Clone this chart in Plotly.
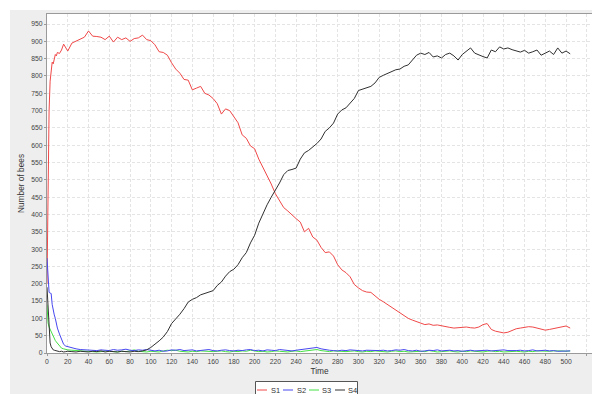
import plotly.graph_objects as go

# ---------------- data ----------------
time = [0, 1, 2, 3, 4, 5, 6, 7, 8, 9, 10, 12, 14, 16, 18] + list(range(20, 505, 4))

s1 = [200, 520, 700, 785, 815, 840, 835, 850, 862, 858, 868, 865, 875, 892, 880,
      872, 895, 900, 905, 912, 930, 915, 914, 912, 905, 915, 898, 912, 905, 910,
      900, 908, 910, 918, 905, 902, 890, 870, 868, 860, 838, 820, 808, 790, 788,
      760, 765, 770, 750, 745, 735, 720, 690, 705, 700, 682, 665, 630, 620, 598,
      590, 560, 537, 515, 488, 460, 440, 420, 410, 398, 388, 378, 350, 360, 335,
      326, 305, 290, 292, 280, 255, 240, 232, 220, 198, 188, 180, 176, 175, 165,
      155, 148, 140, 133, 125, 115, 108, 100, 95, 90, 86, 82, 84, 80, 81,
      78, 76, 74, 72, 73, 76, 75, 73, 72, 75, 82, 85, 68, 63, 60,
      58, 60, 65, 70, 72, 74, 76, 75, 72, 68, 66, 68, 70, 72, 76,
      78, 72]

s2 = [274, 200, 175, 173, 172, 140, 120, 110, 100, 85, 72, 55, 42, 25, 20,
      18, 16, 12, 10, 9, 8, 6, 7, 9, 8, 7, 10, 8, 9, 11,
      8, 7, 9, 8, 10, 7, 6, 8, 5, 6, 9, 8, 10, 7, 8,
      9, 6, 7, 8, 10, 7, 6, 8, 9, 7, 6, 8, 7, 9, 10,
      7, 8, 6, 9, 8, 7, 10, 8, 7, 6, 8, 10, 12, 13, 14,
      16, 12, 9, 8, 7, 6, 8, 7, 9, 8, 7, 6, 8, 7, 6,
      7, 8, 6, 7, 9, 8, 10, 7, 6, 8, 5, 6, 8, 7, 9,
      6, 7, 8, 6, 7, 5, 7, 8, 6, 7, 9, 8, 6, 7, 8,
      9, 7, 6, 7, 8, 6, 7, 9, 6, 7, 8, 6, 7, 5, 6,
      7, 6]

s3 = [140, 87, 75, 68, 62, 58, 50, 42, 36, 32, 28, 20, 14, 12, 10,
      9, 8, 7, 6, 5, 4, 5, 3, 4, 6, 5, 4, 3, 5, 4,
      6, 9, 5, 4, 3, 5, 4, 3, 6, 8, 7, 8, 5, 4, 3,
      5, 4, 6, 5, 3, 4, 5, 6, 4, 3, 5, 4, 6, 5, 8,
      6, 4, 5, 3, 4, 6, 5, 4, 3, 5, 6, 4, 5, 8, 9,
      10, 7, 5, 4, 6, 5, 3, 4, 5, 6, 4, 3, 5, 4, 6,
      5, 4, 3, 5, 6, 4, 5, 3, 4, 6, 5, 4, 7, 5, 3,
      4, 5, 6, 4, 3, 5, 4, 6, 5, 4, 3, 5, 6, 4, 5,
      3, 4, 6, 5, 4, 3, 5, 4, 6, 5, 4, 5, 6, 7, 6,
      5, 6]

s4 = [190, 120, 60, 29, 18, 12, 9, 8, 7, 6, 5, 4, 5, 3, 4,
      5, 4, 3, 5, 4, 3, 5, 4, 6, 3, 5, 4, 3, 5, 4,
      3, 5, 4, 6, 9, 16, 25, 35, 46, 62, 85, 98, 112, 128, 147,
      155, 160, 168, 172, 175, 180, 195, 205, 222, 235, 242, 255, 275, 290, 318,
      340, 375, 404, 428, 450, 470, 491, 515, 527, 530, 534, 560, 578, 585, 595,
      605, 618, 640, 650, 664, 690, 702, 708, 720, 735, 758, 762, 765, 770, 780,
      796, 802, 808, 812, 818, 820, 828, 832, 845, 860, 866, 862, 868, 855, 858,
      852, 862, 866, 858, 846, 862, 872, 881, 866, 860, 856, 852, 875, 870, 884,
      878, 881, 876, 872, 869, 874, 866, 870, 875, 860, 866, 872, 862, 881, 866,
      872, 864]

series_names = ["S1", "S2", "S3", "S4"]
series_values = [s1, s2, s3, s4]
series_colors = ["#f04848", "#4646f0", "#44e044", "#303030"]

x_ticks = list(range(0, 521, 20))
y_ticks = list(range(0, 951, 50))

# ---------------- layout helpers ----------------
W, H = 592, 394
L, R, T, B = 47, 0, 14, 41
PW, PH = W - L - R, H - T - B


def fx(px):
    return (px - L) / PW


def fy(py):
    return (H - B - py) / PH


fig = go.Figure()
draw_order = [0, 2, 1, 3]
for i in draw_order:
    fig.add_trace(go.Scatter(
        x=time, y=series_values[i], name=series_names[i], mode="lines",
        line=dict(color=series_colors[i], width=1), showlegend=False,
    ))

font_family = "Liberation Sans, Arial, sans-serif"

fig.update_layout(
    width=W, height=H,
    margin=dict(l=L, r=R, t=T, b=B, pad=0),
    paper_bgcolor="#eeeeee",
    plot_bgcolor="#ffffff",
    font=dict(family=font_family, color="#444444"),
)

grid = dict(showgrid=True, gridcolor="#e4e4e4", gridwidth=1, griddash="3px,2px",
            zeroline=False, showline=True, linecolor="#9a9a9a", linewidth=1,
            mirror=True, ticks="outside", ticklen=2, tickcolor="#9a9a9a",
            tickfont=dict(size=6.8, color="#444444", family=font_family))

fig.update_xaxes(range=[0, 525], tickvals=x_ticks, ticktext=[str(v) for v in x_ticks],
                 title=dict(text="Time", font=dict(size=8.3, color="#333333"), standoff=4),
                 **grid)
fig.update_yaxes(range=[0, 979], tickvals=y_ticks, ticktext=[str(v) for v in y_ticks],
                 title=dict(text="Number of bees", font=dict(size=8.3, color="#333333"), standoff=5),
                 **grid)

# white strips outside the grey chart panel (top and left)
shapes = [
    dict(type="rect", xref="paper", yref="paper", x0=fx(0), x1=fx(W + 2), y0=fy(10), y1=fy(-2),
         fillcolor="#ffffff", line=dict(width=0), layer="above"),
    dict(type="rect", xref="paper", yref="paper", x0=fx(-2), x1=fx(10), y0=fy(H + 2), y1=fy(-2),
         fillcolor="#ffffff", line=dict(width=0), layer="above"),
    # legend box
    dict(type="rect", xref="paper", yref="paper", x0=fx(255.5), x1=fx(357.5), y0=fy(398), y1=fy(381.5),
         fillcolor="#ffffff", line=dict(width=1, color="#555555"), layer="above"),
]

annotations = []
leg_line_x = [257, 283, 309, 335]
leg_y = 390
for name, col, lx in zip(series_names, series_colors, leg_line_x):
    shapes.append(dict(type="line", xref="paper", yref="paper", x0=fx(lx), x1=fx(lx + 10),
                       y0=fy(leg_y), y1=fy(leg_y), line=dict(color=col, width=1), layer="above"))
    annotations.append(dict(xref="paper", yref="paper", x=fx(lx + 11.5), y=fy(leg_y),
                            xanchor="left", yanchor="middle", showarrow=False, text=name,
                            font=dict(size=7.5, color="#333333", family=font_family)))

fig.update_layout(shapes=shapes, annotations=annotations)

fig.write_html("out.html")
